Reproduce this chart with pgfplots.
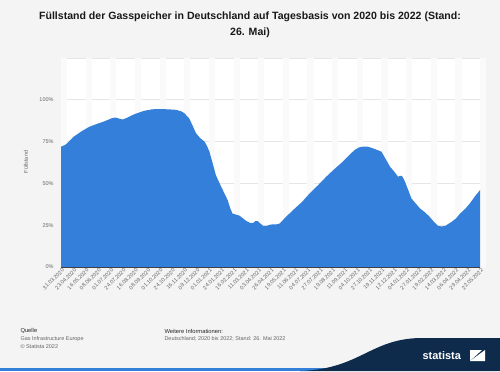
\documentclass[border=0pt]{standalone}
\usepackage{pgfplots}
\pgfplotsset{compat=1.18}
\usepackage{fontspec}
\setmainfont{Liberation Sans}
\definecolor{bg}{HTML}{F4F4F4}
\definecolor{statblue}{RGB}{52,127,218}
\definecolor{navy}{HTML}{0F2B4C}
\definecolor{ticktxt}{HTML}{666666}
\definecolor{gridc}{HTML}{E6E6E6}
\definecolor{band}{HTML}{FAFAFA}
\pgfplotstableread{
day value
0 72
8 73
24 78
40 81.5
52 83.7
62 85
80 87
95 89
102 89.4
110 88.6
115 88.2
125 89.5
137 91.4
155 93.4
170 94.3
183 94.5
200 94.3
215 94
225 93
230 92
236 90
239 89
245 85
252 80
260 77
268 75
273 72
277 69
283 62
289 55
296 50
302 46
311 40
316 35
320 32
325 31.5
333 30.7
346 27.5
352 26.5
358 26.2
363 27.5
367 27.5
372 26
377 24.7
383 24.5
390 25.3
395 25.5
402 25.5
408 26
420 30
433 34
450 39
464 44
480 49
495 54
510 58.5
526 63
535 66
548 70
556 71.5
564 72
572 72
582 71
590 70
598 69
606 64.5
614 60
622 57
629 54
633 54.5
636 54.5
639 53
642 51
648 46
654 41
662 38
670 35
680 32.5
688 30
696 27
704 24.5
710 24.3
717 24.5
723 25.8
729 27
737 29
745 32
755 35
763 38
772 42
782 46
}\gasdata
\begin{document}
\begin{tikzpicture}[x=1bp,y=1bp]
\useasboundingbox (0,0) rectangle (500,371);
\fill[bg] (0,0) rectangle (500,371);
% title
\node[font=\bfseries\fontsize{10.6}{12}\selectfont, text=black!90] at (250,354) {Füllstand der Gasspeicher in Deutschland auf Tagesbasis von 2020 bis 2022 (Stand:};
\node[font=\bfseries\fontsize{10.6}{12}\selectfont, text=black!90] at (250,338) {26. Mai)};
\begin{axis}[
  at={(61bp,104bp)}, anchor=south west,
  scale only axis, width=419bp, height=209bp,
  xmin=0, xmax=782, ymin=0, ymax=125,
  axis background/.style={fill=white},
  axis line style={draw=none},
  xtick={0,23,...,782},
  xticklabels={31.03.2020,23.04.2020,16.05.2020,08.06.2020,01.07.2020,24.07.2020,16.08.2020,08.09.2020,01.10.2020,24.10.2020,16.11.2020,09.12.2020,01.01.2021,24.01.2021,16.02.2021,11.03.2021,03.04.2021,26.04.2021,19.05.2021,11.06.2021,04.07.2021,27.07.2021,19.08.2021,11.09.2021,04.10.2021,27.10.2021,19.11.2021,12.12.2021,04.01.2022,27.01.2022,19.02.2022,14.03.2022,06.04.2022,29.04.2022,22.05.2022},
  xticklabel style={font=\fontsize{5.5}{6}\selectfont, text=ticktxt, rotate=45, anchor=north east, inner sep=1pt, xshift=1bp},
  ytick={0,25,50,75,100,125},
  yticklabels={0\%,25\%,50\%,75\%,100\%,},
  yticklabel style={font=\fontsize{5.5}{6}\selectfont, text=ticktxt, xshift=-4bp},
  major tick length=0pt,
  ymajorgrids, grid style={gridc, line width=0.6bp},
  clip=false,
]
\pgfplotsinvokeforeach{0,46,...,760}{
  \fill[band] (axis cs:#1,0) rectangle (axis cs:#1+11.5,125);
}
\addplot[fill=statblue, draw=none] table[x=day, y=value] {\gasdata} \closedcycle;
\draw[black!75, line width=0.8bp] (axis cs:0,0) -- (axis cs:782,0);
\end{axis}
\node[rotate=90, font=\fontsize{5.5}{6}\selectfont, text=ticktxt] at (26,209) {Füllstand};
% footer
\node[anchor=west, font=\fontsize{5.8}{7}\selectfont, text=black!85] at (17,40) {Quelle};
\node[anchor=west, font=\fontsize{5.5}{7}\selectfont, text=ticktxt] at (17,32) {Gas Infrastructure Europe};
\node[anchor=west, font=\fontsize{5.5}{7}\selectfont, text=ticktxt] at (17,24) {© Statista 2022};
\node[anchor=west, font=\fontsize{5.8}{7}\selectfont, text=black!85] at (161,40) {Weitere Informationen:};
\node[anchor=west, font=\fontsize{5.5}{7}\selectfont, text=ticktxt] at (161,32) {Deutschland; 2020 bis 2022; Stand: 26. Mai 2022};
% bottom bar and logo
\fill[statblue] (0,0) rectangle (500,3);
\fill[navy] (300,0) .. controls (360,2) and (370,32) .. (420,33) -- (500,33) -- (500,0) -- cycle;
\node[anchor=west, font=\bfseries\fontsize{11}{12}\selectfont, text=white] at (419,15) {statista};
\fill[white] (470,10) -- (485,10) -- (485,21) -- cycle;
\fill[white] (470,10) -- (470,21) -- (482,21) -- cycle;
\end{tikzpicture}
\end{document}
